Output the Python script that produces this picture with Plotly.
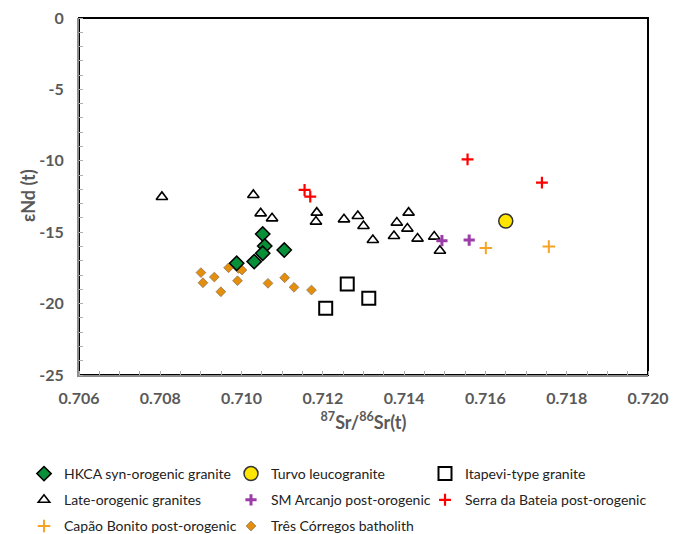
import plotly.graph_objects as go

# ---- data ----
hkca_x = [0.71052, 0.71057, 0.71052, 0.71105, 0.71031, 0.70988]
hkca_y = [-15.13, -15.97, -16.48, -16.25, -17.06, -17.18]

turvo_x = [0.71650]
turvo_y = [-14.22]

itapevi_x = [0.71207, 0.71260, 0.71313]
itapevi_y = [-20.33, -18.63, -19.63]

late_x = [0.70804, 0.71029, 0.71047, 0.71075, 0.71185, 0.71183,
          0.71252, 0.71286, 0.71300, 0.71323, 0.71411, 0.71382,
          0.71408, 0.71375, 0.71433, 0.71474, 0.71488]
late_y = [-12.53, -12.39, -13.68, -14.03, -13.63, -14.26,
          -14.10, -13.87, -14.57, -15.55, -13.63, -14.33,
          -14.75, -15.27, -15.45, -15.31, -16.30]

smarc_x = [0.71493, 0.71560]
smarc_y = [-15.59, -15.55]

bateia_x = [0.71155, 0.71169, 0.71556, 0.71739]
bateia_y = [-12.04, -12.51, -9.90, -11.53]

capao_x = [0.71601, 0.71756]
capao_y = [-16.11, -16.01]

tres_x = [0.70900, 0.70905, 0.70933, 0.70949, 0.70968, 0.70992,
          0.71001, 0.70990, 0.71065, 0.71106, 0.71129, 0.71172]
tres_y = [-17.83, -18.54, -18.14, -19.17, -17.49, -17.54,
          -17.65, -18.40, -18.58, -18.19, -18.86, -19.05]

x_ticks = [0.706, 0.708, 0.710, 0.712, 0.714, 0.716, 0.718, 0.720]
y_ticks = [0, -5, -10, -15, -20, -25]

FONT = "Lato"

fig = go.Figure()

def add(name, xs, ys, marker, legend, rank):
    fig.add_trace(go.Scatter(x=xs, y=ys, mode="markers", name=name,
                             marker=marker, legend=legend, legendrank=rank,
                             legendgroup=name, showlegend=True))

add("Três Córregos batholith", tres_x, tres_y,
    dict(symbol="diamond", size=7.5, color="#E48E0C",
         line=dict(color="#8a7a60", width=0.8)), "legend2", 3)
add("Late-orogenic granites", late_x, late_y,
    dict(symbol="triangle-up", size=10, color="white",
         line=dict(color="black", width=1.6)), "legend", 2)
add("Itapevi-type granite", itapevi_x, itapevi_y,
    dict(symbol="square", size=13, color="white",
         line=dict(color="black", width=2)), "legend3", 1)
add("HKCA syn-orogenic granite", hkca_x, hkca_y,
    dict(symbol="diamond", size=11, color="#079038",
         line=dict(color="black", width=1.5)), "legend", 1)
add("Turvo leucogranite", turvo_x, turvo_y,
    dict(symbol="circle", size=14, color="#FFE500",
         line=dict(color="#333333", width=1.5)), "legend2", 1)
add("SM Arcanjo post-orogenic", smarc_x, smarc_y,
    dict(symbol="cross-thin", size=8, color="#9B3CA8",
         line=dict(color="#9B3CA8", width=3)), "legend2", 2)
add("Serra da Bateia post-orogenic", bateia_x, bateia_y,
    dict(symbol="cross-thin", size=8.5, color="#FF0000",
         line=dict(color="#FF0000", width=2.2)), "legend3", 2)
add("Capão Bonito post-orogenic", capao_x, capao_y,
    dict(symbol="cross-thin", size=9, color="#F7A325",
         line=dict(color="#F7A325", width=2)), "legend", 3)

L, R, T, B = 79, 25, 18, 159
W, H = 673, 534
PW, PH = W - L - R, H - T - B

legend_common = dict(font=dict(family=FONT, size=14, color="#222222"),
                     orientation="v", yanchor="top", xanchor="left",
                     xref="container", yref="container",
                     bgcolor="rgba(0,0,0,0)", borderwidth=0,
                     traceorder="grouped", tracegroupgap=5,
                     itemsizing="trace")

def cx(p):
    return p / W

def cy(p):
    return 1 - p / H

fig.update_layout(
    width=W, height=H,
    margin=dict(l=L, r=R, t=T, b=B, autoexpand=False),
    paper_bgcolor="white", plot_bgcolor="white",
    font=dict(family=FONT),
    xaxis=dict(range=[0.706, 0.720], tickvals=x_ticks,
               ticktext=["%.3f" % v for v in x_ticks],
               showgrid=False, zeroline=False, automargin=False,
               showline=True, linecolor="#8c8c8c", linewidth=2,
               ticks="outside", ticklen=8, tickcolor="rgba(0,0,0,0)",
               minor=dict(dtick=0.0005, ticks="inside", ticklen=4,
                          tickcolor="#b0b0b0", showgrid=False),
               tickfont=dict(family=FONT, size=16, color="#595959",
                             weight="bold"),
               title=dict(text="<sup>87</sup>Sr/<sup>86</sup>Sr(t)",
                          font=dict(family=FONT, size=18, color="#595959",
                                    weight="bold"),
                          standoff=10)),
    yaxis=dict(range=[-25, 0], tickvals=y_ticks,
               ticktext=[str(v) for v in y_ticks],
               showgrid=False, zeroline=False, automargin=False,
               showline=True, linecolor="#8c8c8c", linewidth=2,
               ticks="outside", ticklen=10, tickcolor="rgba(0,0,0,0)",
               minor=dict(dtick=1, ticks="inside", ticklen=4,
                          tickcolor="#b0b0b0", showgrid=False),
               tickfont=dict(family=FONT, size=16, color="#595959",
                             weight="bold")),
    annotations=[dict(text="εNd (t)", textangle=-90, showarrow=False,
                      xref="paper", yref="paper",
                      x=(28 - L) / PW, y=(H - B - 196) / PH,
                      xanchor="center", yanchor="middle",
                      font=dict(family=FONT, size=18, color="#595959",
                                weight="bold"))],
    legend=dict(x=cx(24), y=cy(458), **legend_common),
    legend2=dict(x=cx(231), y=cy(458), **legend_common),
    legend3=dict(x=cx(425), y=cy(458), **legend_common),
    shapes=[dict(type="rect", xref="paper", yref="paper", x0=0, x1=1,
                 y0=0, y1=1, line=dict(color="black", width=2),
                 layer="below")],
)

fig.write_html("out.html")
